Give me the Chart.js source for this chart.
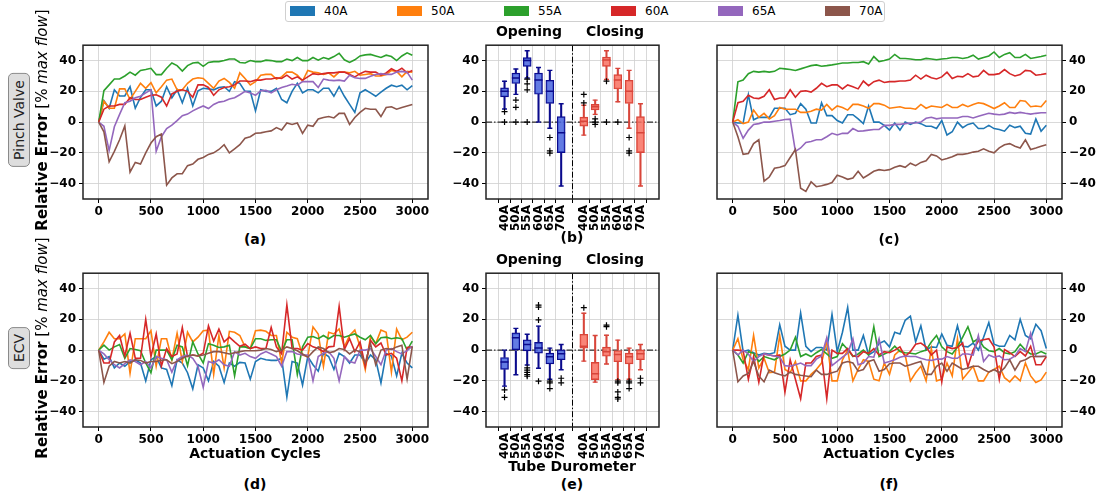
<!DOCTYPE html>
<html>
<head>
<meta charset="utf-8">
<script src="https://cdn.jsdelivr.net/npm/chart.js@4.4.1/dist/chart.umd.min.js"></script>
<style>
  body { margin: 0; background: #fff; font-family: 'DejaVu Sans', sans-serif; }
  #page { position: relative; width: 1106px; height: 495px; overflow: hidden; }
  canvas { position: absolute; display: block; }
  .lbl { position: absolute; transform: translate(-50%, -50%); white-space: nowrap; font-weight: bold; color: #000; font-size: 14px; }
  .ytitle { position: absolute; transform: translate(-50%, -50%) rotate(-90deg); white-space: nowrap; font-size: 15px; color: #000; }
  .side { position: absolute; transform: translate(-50%, -50%) rotate(-90deg); white-space: nowrap; font-size: 14px;
          background: #dedede; border: 1px solid #8a8a8a; border-radius: 5px; padding: 2px 6px; color: #222; }
  #legend { position: absolute; left: 285px; top: 1px; width: 598px; height: 19px; border: 1px solid #d0d0d0; border-radius: 3px; background: #fff; }
  .sw { position: absolute; top: 4px; width: 25px; height: 10px; }
  .lt { position: absolute; top: 2px; font-size: 12px; line-height: 15px; }
</style>
</head>
<body>
<div id="page">
  <div id="legend"></div>

  <canvas id="pa" width="396" height="190" style="left:38px;top:35px"></canvas>
  <canvas id="pb" width="221" height="200" style="left:444px;top:35px"></canvas>
  <canvas id="pc" width="396" height="190" style="left:711px;top:35px"></canvas>
  <canvas id="pd" width="396" height="190" style="left:38px;top:263px"></canvas>
  <canvas id="pe" width="221" height="200" style="left:444px;top:263px"></canvas>
  <canvas id="pf" width="396" height="190" style="left:711px;top:263px"></canvas>

  <div class="side" style="left:19px;top:120px">Pinch Valve</div>
  <div class="side" style="left:19px;top:348px">ECV</div>
  <div class="ytitle" style="left:42px;top:120px"><b>Relative Error</b> [% <i>max flow</i>]</div>
  <div class="ytitle" style="left:42px;top:348px"><b>Relative Error</b> [% <i>max flow</i>]</div>

  <div class="lbl" style="left:529px;top:31px">Opening</div>
  <div class="lbl" style="left:615px;top:31px">Closing</div>
  <div class="lbl" style="left:529px;top:259px">Opening</div>
  <div class="lbl" style="left:615px;top:259px">Closing</div>

  <div class="lbl" style="left:255px;top:239px">(a)</div>
  <div class="lbl" style="left:572px;top:237px">(b)</div>
  <div class="lbl" style="left:889px;top:239px">(c)</div>
  <div class="lbl" style="left:255px;top:453px">Actuation Cycles</div>
  <div class="lbl" style="left:572px;top:466px">Tube Durometer</div>
  <div class="lbl" style="left:889px;top:453px">Actuation Cycles</div>
  <div class="lbl" style="left:255px;top:484px">(d)</div>
  <div class="lbl" style="left:572px;top:484px">(e)</div>
  <div class="lbl" style="left:889px;top:484px">(f)</div>
</div>

<script>
// x grid (actuation cycles)
const cycles = [0,50,100,150,200,250,300,350,400,450,500,550,600,650,700,750,800,850,900,950,
  1000,1050,1100,1150,1200,1250,1300,1350,1400,1450,1500,1550,1600,1650,1700,1750,1800,1850,1900,1950,
  2000,2050,2100,2150,2200,2250,2300,2350,2400,2450,2500,2550,2600,2650,2700,2750,2800,2850,2900,2950,3000];
const xTicks = [0,500,1000,1500,2000,2500,3000];
const yTicks = [-40,-20,0,20,40];
const tubes = ['40A','50A','55A','60A','65A','70A'];
const tubeColors = ['#1f77b4','#ff7f0e','#2ca02c','#d62728','#9467bd','#8c564b'];
const openPos = [1,2,3,4,5,6];
const closePos = [8,9,10,11,12,13];

// (a) pinch valve, opening
const pvOpen40 = [0,14,9,21,17,17,23,9,16,21,21,10.5,13.6,23,15.8,21,12.6,22,10.5,20.4,22,21.6,21,22.5,23,20,26.3,25.2,20,20,7.3,21,20,20,22,14.7,12.6,20,25.2,19,21,21,19,22,22,16.8,23,16.8,11.5,6.3,19,21,19,16.8,19.5,22,24,23,24,21,23.7];
const pvOpen50 = [0,13.6,9,9,21.6,21.6,14.7,20,25.2,22,25.6,19,23,27.3,28,21,21,25.2,28,28.8,28.4,25.2,22,26.7,28.4,25.8,22,32,28.4,24.2,26.3,30.5,31,31,28,29.4,32.5,32.5,30.5,26.7,33.6,32.5,32,31,32,29.4,32.5,32.5,32,33,30.5,31,31.5,30,30,31,33.6,33,29.4,33,32.5];
const pvOpen55 = [0,20.4,24.2,28,28,30,32.5,30.5,33.6,34.2,35,30.9,30.9,35,38.4,36.7,33.2,36.7,38.4,38.8,36.3,38.8,39.3,39.3,40,41,41,38.8,38.4,40,39.3,39.3,40.3,40,39.3,39.3,41,40,42,40,40,42,40.3,42,41,42.6,44.7,40.5,38.8,40.5,43,43.7,44,43,42,43.5,42.6,40,43,45,43.5];
const pvOpen60 = [0,8.4,10.5,10.5,11.5,11.5,15.8,14.7,14.7,16.2,17.4,17.8,16.2,10.5,18.3,20,21,20,16.2,24.2,24.2,22.5,17.4,21,22.5,23,24.2,26.7,26.7,26.3,27.3,27.3,28,28,28.8,28.4,30.5,28,29.4,27.3,29.4,31.5,31,31.5,32,32,32.5,32.5,31,29.4,31.5,33,32.5,32.5,30.5,32,34.7,33,35,32,33.6];
const pvOpen65 = [0,-2.7,-18.5,-3,5,12.6,13.6,15.8,16.8,19,21,-19,-9.5,-4.2,-2,1,4.2,5.2,7.3,9,10.5,8.8,11.5,13,13.6,15,15.8,17.8,20,19,17.4,20.4,20.6,19,21,22.5,23.5,24.6,24,26.3,26.3,26.3,22.5,28,27.3,27,27.3,26.7,30.5,28.8,28.4,28.4,29.8,31,31.5,31,31,32.5,33,32.5,27.3];
const pvOpen70 = [0,-6.3,-25.8,-19,-11.5,-2.5,-32.5,-26.2,-27.3,-20,-13.6,-9.5,-7.8,-41,-36.3,-33.6,-33.6,-28.3,-27.3,-24.2,-23,-21,-20,-17.8,-14.7,-20,-17.4,-14.7,-10.5,-9.5,-7.3,-7,-6.3,-5.7,-3.6,-5.2,-0.6,-1.5,-0.6,-7.3,-2,-2.7,2,3,3.6,2.7,5.7,5.7,-1.5,3,6.3,9,8.4,8.4,3.6,9.5,10,8.4,9.5,10.5,11.5];

// (c) pinch valve, closing
const pvClose40 = [0,-0.6,-0.6,17.8,1.5,3.1,3.1,3.1,9,9,9,4.8,5.7,12,8.4,-0.6,-0.6,12.6,4.2,4.2,1,-0.6,4.8,4.8,2.1,-1,10.5,0,0,-2.1,-5.2,-0.6,-5.2,0,-1.5,0,-1,-2.7,-2.7,-4.2,1,-8.4,-6.3,0,-3.6,-1.5,-0.6,-4.2,-4.2,-2.1,-4.2,-4.8,-5.9,-2.1,-3.6,-2.7,-7.3,-7.8,2.1,-5.9,-2.1];
const pvClose50 = [0,1.5,-1,0,7.8,3.1,5.7,2.1,4.2,9.5,8.4,8.4,8.4,6.3,6.3,7,8.4,7.8,11.5,7.8,10.5,9.5,7.8,11.5,11.5,10.5,9,12,12,11,9,9.5,10,9,9,8.4,11.5,9,10.5,10,9.5,11.5,9.5,9.5,11.5,10,11.5,12.6,12,10.5,8.8,10.5,12.6,9.5,9.5,14,13.6,10,10.5,10,14];
const pvClose55 = [0,26.2,27.3,31.5,33,32.5,33,32.5,33,35,34.6,34.2,33.6,34.6,35.7,36.7,37.2,36.3,36.7,37.2,37.8,38.4,38.4,38.8,38.8,39.3,37.8,42.6,39.3,40,41,44,41.4,41.4,41,40.5,40.5,41.4,41,40.5,41,41.4,42,42,41.4,42,43.5,41,42,43,45.6,42,44,45.1,42,42,44,41.4,42,42.6,43.5];
const pvClose60 = [0,12.6,13.6,17.4,15.7,15.3,16.8,21,14.7,15.7,15.7,21,16.2,20,20.4,19.5,22,25.2,23,24.2,24.2,21.6,24.2,23,21.6,26.7,23.7,26.3,27.3,25.8,26.3,26.3,26.7,26.7,27.3,30.5,28,30.5,28.8,28,29.4,32.5,28.4,29.8,29.4,31.5,29.4,30,33.6,30.9,30.9,31.5,34.2,31.5,30,30.9,33.6,33.2,30.5,30.9,31.5];
const pvClose65 = [0,-2.7,-10.5,-5.2,-1.5,-1,0,0,0.6,1,1.7,1.9,-19,-16.8,-13.2,-12.6,-11.5,-11.5,-9.5,-7.3,-8.4,-7.3,-7.3,-4.2,-5.9,-5.7,-5.2,-4.8,-4.8,-2.1,-2.1,-1.5,-1.5,-1,-0.6,-0.6,0,2.5,3.1,2.1,2.7,2.7,2.7,2.7,3.6,3.6,2.7,3.8,4.8,5.7,5.2,4.8,5.2,6.3,5.7,6.3,5.7,5.2,5.7,6.1,6.1];
const pvClose70 = [0,-9.5,-21,-20.4,-14,-11.5,-38.4,-35.7,-30,-29.4,-28.3,-23,-17.8,-43,-45.1,-38.8,-42,-41.4,-40.5,-39.3,-34.6,-35.7,-37.2,-36.3,-32,-36.3,-34.2,-32,-30.9,-31.5,-30.9,-29.4,-28.3,-29.4,-26.7,-28.3,-26.2,-25.2,-21,-22,-24.6,-23.7,-22.5,-21,-21,-20.4,-19.5,-18.9,-17.4,-18.9,-20,-16.8,-14.7,-14,-15.7,-16.8,-11.5,-17.8,-16.8,-15.7,-14.7];

// (d) ECV, opening
const ecvOpen40 = [0,-5.9,-4.2,-11.6,-8.4,-10.5,-7.4,-6.3,-8.4,-20,-6.3,-4.2,-11.6,-12.6,-23.1,-6.3,-8.4,-14.7,-25.2,-9.5,-11.6,-20,-7.4,-10.5,-21,-8.4,-10.5,-8,-8.4,-18.9,-7.4,-5.3,-6.3,-6.7,-6.7,-5.3,-30.5,-7.4,-8.4,-22.7,-4.2,-9.5,-13.7,-2.1,-4.2,-12.6,-2.1,-4.2,-8.4,-3.2,-3.2,-8.4,-3.2,-6.3,-21.4,-2.1,-3.8,-16.8,-2.1,-8.4,-11.6];
const ecvOpen50 = [0,5.3,11.6,7.4,7.4,10.5,-15.1,7.4,7.4,7.4,12.6,-10.5,7.4,7.4,-6.3,10.9,-7.4,11.6,5.3,8.4,12.6,13,-15.8,9.5,-11.6,12.2,11.6,9.5,2.1,1,12.6,13,12.2,9.5,9.5,-8.4,11.6,8.4,7.4,-3.2,-4.2,15.1,10.5,-10.5,11.6,10.5,13.7,2.1,9.5,13,2.1,-12.6,8.8,4.2,13,11.6,-14.3,13.7,6.7,8.4,11.6];
const ecvOpen55 = [0,3.2,0,2.1,3.6,-5.3,1,0.4,-0.4,-8.4,-14.7,0,0,0,-6.3,3.2,2.1,-10.1,5.3,-2.5,-8.4,4.2,3.2,1.7,2.1,3.2,-16.8,2.1,2.1,1,7.4,7.4,6.3,6.7,6.7,-1,6.7,6.7,-15.8,2.1,8.4,8.8,7.4,9.5,7.4,9.5,9.5,8.4,9.5,10.5,8.4,6.7,9.5,4.2,8,8.4,7.4,8,7.4,0,5.9];
const ecvOpen60 = [0,-8.4,-8.4,5.3,9.5,-3.8,10.9,-5.3,-5.3,20,-4.2,10.5,-10.5,1,-4.2,-2.5,14.7,-4.2,-3.2,-3.8,-2.1,15.8,5.9,13.7,5.3,8.4,5.3,2.5,3.8,1,2.1,1,1,14.7,2.1,-2.5,29.4,1,1,0,4.2,2.1,1,-1,2.1,2.5,28.4,0.4,7.4,-1,5.3,-10.5,6.3,2.1,4.6,-3.2,-2.1,-5.3,-20,1.7,2.1];
const ecvOpen65 = [0,-2.5,-6.3,-9.5,-11.6,-8.8,-6.3,-7.4,-9.5,-7.4,-11.6,-4.2,-5.3,-6.3,-14.3,-6.3,-4.2,-3.2,-5.3,-10.5,-24.2,-7.4,-8.4,-6.3,-9.5,-10.5,-1,-3.2,-2.1,-4.2,-5.3,-2.5,-1,-2.5,-4.2,-10.5,-1,-1,-2.5,-3.2,-3.2,-20,-4.2,-2.1,-1,-5.3,-20,-4.2,-7.4,-8.4,0,0,1,-4.2,-9.5,0,1,-1,-2.5,-0.4,2.5];
const ecvOpen70 = [0,-21,-10.5,-7.4,-8.4,-7.4,-8.4,-6.3,-6.7,-8.4,-7.4,-7.4,-6.7,-6.3,-8.8,-7.4,-5.3,-3.8,-3.2,-3.8,-3.2,-2.1,-1,-1,-1.7,-2.5,-1.7,-1,-0.4,-0.4,-0.4,0,1,0.4,-1,0,2.1,1,-0.4,-2.5,-4.6,-1,2.1,1,-1.7,-1,1,0.4,-2.5,0,-1,-8.4,4.2,-9.5,0,1,0.4,2.1,3.2,-18.9,2.5];

// (f) ECV, closing
const ecvClose40 = [0,22.7,-1,0,-1.7,-3.2,-2.1,-2.5,-1.7,16.4,2.5,0,0,24.2,2.5,-1,1.7,1.7,0,23.2,-1,11.6,27.8,0,0,9.5,-3.2,-1,4.2,5.9,2.1,11.6,10.5,19.4,22.1,5.3,15.8,0,2.1,1.7,10.5,3.2,2.5,15.8,2.5,2.1,4.6,0,8.4,17.9,3.8,2.5,2.5,9.5,6.7,20,9.5,7.4,16.8,12.6,1];
const ecvClose50 = [0,7.4,-6.3,-12.6,9.5,-11.6,-5.3,-14.7,-14.3,9.5,-12.6,-14.7,-7.4,-20,-20,-15.8,-12.6,-8.4,6.3,-20,-20,-6.3,0,-20,-12.6,-6.3,-7.4,-18.9,-20,-8.4,-15.8,-3.2,0,-3.2,-20,-14.7,-10.5,-20,1,-20,-18.9,-8.4,-16.8,7.4,-18.9,-14.7,-10.5,-20,-20,-14.3,-12.6,-10.5,-17.9,-20.6,-16.8,-20,-8.4,-16.8,-21,-19.4,-14.3];
const ecvClose55 = [0,-3.2,-8.4,-1,-2.1,-7.4,-4.2,-5.3,-6.3,-4.2,-2.5,0,8.4,-4.2,-2.5,-4.2,-1.7,0.4,-2.5,-5.3,-4.2,4.2,0.4,-4.2,-2.5,0,-3.2,15.2,-4.2,-2.5,-1,2.5,-1,-1.7,-2.1,-2.5,-1,0,5.3,9.5,2.1,-1,-2.5,2.1,8.4,15.2,5.3,7.4,2.1,-0.4,-1,1,-1.7,-2.5,-1,3.8,0,-2.5,-2.5,-1,-2.5];
const ecvClose60 = [0,0,-0.4,-19,-4.2,-21,-2.5,-3.2,-3.8,-3.2,-27.4,-6.3,-19,-31.6,-8.4,-8.4,-4.2,-3.2,-31.6,0,-2.1,-2.1,1,-3.8,-4.2,-1,-2.1,1,-3.2,-1,-1.7,0,2.1,-4.2,-1,3.8,4.6,2.1,-3.2,0,-20.6,2.1,1,1.7,4.6,-10.9,0,5.9,6.7,7.4,2.1,-19,0.4,-1.7,-4.2,-1,-3.8,2.5,-9.5,-9.5,-4.2];
const ecvClose65 = [0,-3.2,0,-2.5,-7.4,-4.2,-2.5,-3.2,-3.8,-4.6,-10.1,-10.5,-9.5,-8.4,-10.1,-10.1,-5.9,-3.8,8,-10.1,-7.4,-4.6,-2.1,7.4,-9.5,-8.4,-4.2,-4.6,7.4,-8.4,-7.4,-6.3,-4.6,-3.8,-4.2,-4.2,-5.3,-6.3,-6.7,-5.9,-5.9,-4.2,-5.3,-5.3,-2.5,-2.5,-3.2,9.5,-7.4,-3.2,-4.6,-3.8,-6.3,-5.9,-3.8,1,-1,10.9,-4.2,-4.2,-3.8];
const ecvClose70 = [0,-20.6,-16.8,-15.2,-7.4,-16.8,-20.6,-13,-14.7,-15.8,-16.8,-14.3,-15.8,-16.4,-16.8,-17.3,-13,-15.8,-15.8,-14.7,-13.7,-8.4,-7.4,-8.4,-13.7,-12.6,-7.4,-6.3,-13.7,-12.6,-8.8,-8.4,-8.4,-10.5,-9.5,-8.4,-7.4,-15.8,-15.8,-10.5,-8.4,-13.7,-8.4,-10.5,-12.6,-11.6,-10.5,-10.5,-12.6,-14.3,-12.6,-14.7,-11.6,-6.3,-13,-7.4,-6.3,-4.2,-4.2,-4.2,-4.2];

// box stats per tube: [lower whisker, q1, median, q3, upper whisker]
const pvOpenBox = [[8.5,16.4,20,22.3,26.6],[18,25.1,28.7,31.9,34.5],[28.7,36.2,40,41.9,46.4],[0,18.1,27.4,31.9,35.5],[-4,12.1,20,27.2,33.6],[-41.5,-19.8,-7,3.6,11.9]];
const pvOpenOut = [[6.8,0],[14.3,9.6,0],[28,24.9,21,0],[],[-10,-18.7,-20.2],[]];
const pvCloseBox = [[-8.5,-2.6,0.5,3.2,11],[5,7.9,10,11.5,14.3],[27.7,36.2,40.4,42.3,46.4],[13.2,21.5,27.4,30.9,34.9],[-4,12.1,20,27.2,33.6],[-41.5,-19.8,-7,3.6,11.9]];
const pvCloseOut = [[18,12.5],[2.1,0,-1.5],[26.6,0],[0],[-10,-18.7,-20.2],[]];
const ecvOpenBox = [[-23.4,-12.6,-7.8,-4.8,0],[-16,0,8,11.2,14.1],[-9.7,-0.5,3.6,6.7,10.3],[-11.8,-2,1.3,5,15.6],[-19,-9,-4.4,-2,1.3],[-12.8,-6.3,-2.3,0.2,3.6]];
const ecvOpenOut = [[-25.9,-30.7],[],[-11.5,-13,-14.5,-16,-17],[29.3,28,19.6,-20.2],[-20.2,-21.3,-25],[-18.3,-21.3]];
const ecvCloseBox = [[-7.2,1.3,2.5,10.3,24],[-20.8,-19.2,-15.4,-8,9.5],[-9,-4,-1,1.9,9.7],[-19.2,-7.6,-2.9,0,6.5],[-19,-9,-4.4,-2,1.3],[-12.8,-6.3,-2.3,0.2,3.6]];
const ecvCloseOut = [[27.6],[],[16.2,15.2],[-20.2,-21.3,-27.2,-30.7,-31.8],[-20.2,-21.3,-25],[-18.3,-21.3]];

Chart.defaults.font.family = "'DejaVu Sans', sans-serif";
Chart.defaults.color = '#000';

const minus = v => String(v).replace('-', '\u2212');

// full black frame + dash-dot reference lines for the box panels
Chart.register({
  id: 'frame',
  beforeDatasetsDraw(chart, args, opts) {
    if (!opts.split) return;
    const {ctx, chartArea: a, scales} = chart;
    const y0 = scales.y.getPixelForValue(0);
    const xs = scales.x.getPixelForValue(opts.split);
    ctx.save();
    ctx.strokeStyle = '#000';
    ctx.lineWidth = 1;
    ctx.setLineDash([6, 2, 1.5, 2]);
    ctx.beginPath();
    ctx.moveTo(a.left, y0); ctx.lineTo(a.right, y0);
    ctx.moveTo(xs, a.top); ctx.lineTo(xs, a.bottom);
    ctx.stroke();
    ctx.restore();
  },
  afterDraw(chart) {
    const {ctx, chartArea: a} = chart;
    ctx.save();
    ctx.strokeStyle = '#222';
    ctx.lineWidth = 1.5;
    ctx.strokeRect(a.left, a.top, a.width, a.height);
    ctx.restore();
  }
});

const grid = {color: '#cfcfcf', lineWidth: 0.8, borderDash: [1.5, 1.5], tickColor: '#000', tickLength: 4, tickWidth: 1, tickBorderDash: []};
const tickFont = {size: 12, weight: 'bold'};

function yAxis(side, w) {
  return {
    type: 'linear', position: side, min: -50, max: 50,
    afterBuildTicks: s => { s.ticks = yTicks.map(v => ({value: v})); },
    afterFit: s => { s.width = w; },
    grid: grid, border: {display: false},
    ticks: {font: tickFont, padding: 3, callback: minus}
  };
}

function linePanel(id, series, right) {
  new Chart(document.getElementById(id), {
    type: 'line',
    data: {
      datasets: series.map((vals, k) => ({
        label: tubes[k],
        data: cycles.map((c, i) => ({x: c, y: vals[i]})),
        borderColor: tubeColors[k],
        borderWidth: 1.6,
        pointRadius: 0,
        tension: 0,
        order: 5 - k
      }))
    },
    options: {
      responsive: false, animation: false,
      layout: {autoPadding: false, padding: right ? {left: 6, top: 6, right: 0, bottom: 0} : {left: 0, top: 6, right: 6, bottom: 0}},
      plugins: {legend: {display: false}, tooltip: {enabled: false}},
      scales: {
        x: {
          type: 'linear', min: -150, max: 3150,
          afterBuildTicks: s => { s.ticks = xTicks.map(v => ({value: v})); },
          afterFit: s => { s.height = 26; },
          grid: grid, border: {display: false},
          ticks: {font: tickFont, padding: 2, maxRotation: 0, autoSkip: false, callback: v => String(v)}
        },
        y: yAxis(right ? 'right' : 'left', 45)
      }
    }
  });
}

function boxSets(stats, outs, pos, fill, edge) {
  const whisker = {type: 'bar', grouped: false, backgroundColor: edge, borderWidth: 0, barThickness: 1.4};
  return [
    {type: 'scatter', data: stats.map((s, i) => ({x: pos[i], y: s[2]})),
     pointStyle: 'line', pointRadius: 4, borderColor: edge, borderWidth: 1.5},
    {type: 'scatter', data: outs.flatMap((o, i) => o.map(v => ({x: pos[i], y: v}))),
     pointStyle: 'cross', pointRadius: 3, borderColor: '#000', borderWidth: 1.2},
    {type: 'scatter', data: stats.flatMap((s, i) => [{x: pos[i], y: s[0]}, {x: pos[i], y: s[4]}]),
     pointStyle: 'line', pointRadius: 2.5, borderColor: edge, borderWidth: 1.4},
    {type: 'bar', grouped: false, data: stats.map((s, i) => ({x: pos[i], y: [s[1], s[3]]})),
     backgroundColor: fill, borderColor: edge, borderWidth: 1.2, borderSkipped: false, barThickness: 8},
    Object.assign({data: stats.map((s, i) => ({x: pos[i], y: [s[0], s[1]]}))}, whisker),
    Object.assign({data: stats.map((s, i) => ({x: pos[i], y: [s[3], s[4]]}))}, whisker)
  ];
}

function boxPanel(id, oStats, oOut, cStats, cOut) {
  new Chart(document.getElementById(id), {
    type: 'bar',
    data: {
      datasets: [
        ...boxSets(oStats, oOut, openPos, 'rgba(72,100,222,0.85)', '#0a0a8c'),
        ...boxSets(cStats, cOut, closePos, 'rgba(248,112,96,0.85)', '#d8453a')
      ]
    },
    options: {
      responsive: false, animation: false,
      layout: {autoPadding: false, padding: {left: 0, top: 6, right: 6, bottom: 0}},
      plugins: {legend: {display: false}, tooltip: {enabled: false}, frame: {split: 7}},
      scales: {
        x: {
          type: 'linear', min: 0, max: 14,
          afterBuildTicks: s => { s.ticks = openPos.concat(closePos).map(v => ({value: v})); },
          afterFit: s => { s.height = 36; },
          grid: grid, border: {display: false},
          ticks: {font: tickFont, padding: 2, minRotation: 90, maxRotation: 90, autoSkip: false,
                  callback: v => tubes[v < 7 ? v - 1 : v - 8]}
        },
        y: yAxis('left', 42)
      }
    }
  });
}

linePanel('pa', [pvOpen40, pvOpen50, pvOpen55, pvOpen60, pvOpen65, pvOpen70], false);
linePanel('pc', [pvClose40, pvClose50, pvClose55, pvClose60, pvClose65, pvClose70], true);
linePanel('pd', [ecvOpen40, ecvOpen50, ecvOpen55, ecvOpen60, ecvOpen65, ecvOpen70], false);
linePanel('pf', [ecvClose40, ecvClose50, ecvClose55, ecvClose60, ecvClose65, ecvClose70], true);
boxPanel('pb', pvOpenBox, pvOpenOut, pvCloseBox, pvCloseOut);
boxPanel('pe', ecvOpenBox, ecvOpenOut, ecvCloseBox, ecvCloseOut);

// legend
const legend = document.getElementById('legend');
tubes.forEach((t, k) => {
  const sw = document.createElement('div');
  sw.className = 'sw';
  sw.style.left = (4 + 107 * k) + 'px';
  sw.style.background = tubeColors[k];
  legend.appendChild(sw);
  const tx = document.createElement('div');
  tx.className = 'lt';
  tx.style.left = (38 + 107 * k) + 'px';
  tx.textContent = t;
  legend.appendChild(tx);
});
</script>
</body>
</html>
